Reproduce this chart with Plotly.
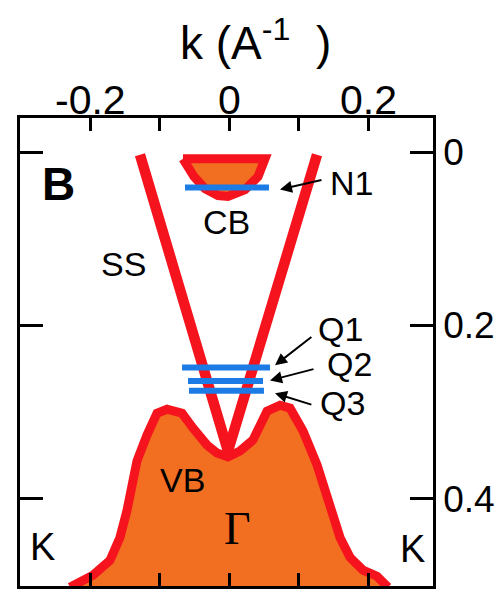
import plotly.graph_objects as go

# ---- data (k in 1/A, E in eV, E axis reversed) ----
x_tickvals = [-0.2, -0.1, 0.0, 0.1, 0.2]
x_labelvals = [-0.2, 0.0, 0.2]
x_labeltext = ["-0.2", "0", "0.2"]
y_tickvals = [0.0, 0.2, 0.4]
y_ticktext = ["0", "0.2", "0.4"]

vb_k = [-0.2295, -0.1964, -0.1719, -0.1576, -0.1475, -0.1403, -0.1331, -0.1187, -0.1043,
        -0.0899, -0.0683, -0.0525, -0.0324, -0.0180, -0.0022, 0.0151, 0.0338, 0.0540,
        0.0727, 0.0871, 0.1058, 0.1259, 0.1446, 0.1590, 0.1734, 0.1921, 0.2122, 0.2281]
vb_E = [0.5023, 0.4885, 0.4713, 0.4449, 0.4139, 0.3875, 0.3565, 0.3266, 0.3014,
        0.2968, 0.3014, 0.3186, 0.3381, 0.3473, 0.3519, 0.3450, 0.3324, 0.2991,
        0.2922, 0.2956, 0.3220, 0.3610, 0.4104, 0.4449, 0.4679, 0.4828, 0.4897, 0.5023]

cb_k = [-0.0669, 0.0511, 0.0410, 0.0223, -0.0022, -0.0165, -0.0353, -0.0511]
cb_E = [0.0075, 0.0075, 0.0281, 0.0431, 0.0510, 0.0500, 0.0419, 0.0281]

ss_k = [-0.1288, -0.0022, 0.1259]
ss_E = [0.0029, 0.345, 0.0029]

level_names = ["N1", "Q1", "Q2", "Q3"]
level_E = [0.0408, 0.2486, 0.2641, 0.2756]
level_kmin = [-0.064, -0.0683, -0.0597, -0.0583]
level_kmax = [0.0568, 0.0583, 0.0482, 0.0496]

# label positions / arrow endpoints
label_pos = {"N1": (0.175, 0.035), "Q1": (0.159, 0.2038), "Q2": (0.172, 0.245), "Q3": (0.162, 0.290)}
arrow_tail = {"N1": (0.1345, 0.0316), "Q1": (0.120, 0.212), "Q2": (0.123, 0.250), "Q3": (0.120, 0.292)}
arrow_head = {"N1": (0.0727, 0.043), "Q1": (0.0655, 0.246), "Q2": (0.0583, 0.2635), "Q3": (0.0655, 0.2784)}

RED = "#f5141e"
ORANGE = "#f26f21"
BLUE = "#1d7be5"
FONT = "Liberation Sans, Arial, sans-serif"

fig = go.Figure()

fig.add_trace(go.Scatter(x=vb_k, y=vb_E, mode="lines", fill="toself", fillcolor=ORANGE,
                         line=dict(color=RED, width=9), hoverinfo="skip"))
fig.add_trace(go.Scatter(x=cb_k + [cb_k[0]], y=cb_E + [cb_E[0]], mode="lines", fill="toself",
                         fillcolor=ORANGE, line=dict(color=RED, width=9), hoverinfo="skip"))
fig.add_trace(go.Scatter(x=ss_k, y=ss_E, mode="lines", line=dict(color=RED, width=10.5),
                         hoverinfo="skip"))
for name, e, k0, k1 in zip(level_names, level_E, level_kmin, level_kmax):
    fig.add_trace(go.Scatter(x=[k0, k1], y=[e, e], mode="lines", line=dict(color=BLUE, width=6),
                             hoverinfo="skip"))

annotations = []
def txt(x, y, t, size=34, bold=False, family=FONT):
    annotations.append(dict(x=x, y=y, xref="x", yref="y", text=("<b>%s</b>" % t) if bold else t,
                            showarrow=False, font=dict(size=size, color="black", family=family),
                            xanchor="center", yanchor="middle"))

txt(-0.2453, 0.0362, "B", size=46, bold=True)
txt(-0.1518, 0.129, "SS")
txt(-0.0036, 0.081, "CB")
txt(-0.068, 0.378, "VB")
txt(0.011, 0.434, "Γ", size=46, family="Liberation Serif, Times New Roman, serif")
txt(-0.2684, 0.456, "K", size=38)
txt(0.264, 0.4587, "K", size=38)
for name in level_names:
    lx, ly = label_pos[name]
    txt(lx, ly, name)
    tx, ty = arrow_tail[name]
    hx, hy = arrow_head[name]
    annotations.append(dict(x=hx, y=hy, ax=tx, ay=ty, xref="x", yref="y", axref="x", ayref="y",
                            text="", showarrow=True, arrowhead=2, arrowsize=1.2, arrowwidth=2,
                            arrowcolor="black"))

# top-axis tick labels placed at their data positions
for v, t in zip(x_labelvals, x_labeltext):
    annotations.append(dict(x=v, y=1.038, xref="x", yref="paper", text=t, showarrow=False,
                            xanchor="center", yanchor="middle",
                            font=dict(size=41, color="black", family=FONT)))

annotations.append(dict(x=0.571, y=1.166, xref="paper", yref="paper",
                        text="k (A<sup>-1</sup>&nbsp; )",
                        showarrow=False, xanchor="center", yanchor="middle",
                        font=dict(size=46, color="black", family=FONT)))

fig.update_layout(
    width=500, height=592,
    margin=dict(l=20, r=67, t=118, b=3),
    paper_bgcolor="white", plot_bgcolor="white",
    showlegend=False,
    annotations=annotations,
    xaxis=dict(range=[-0.3014, 0.2928], side="top", tickmode="array", tickvals=x_tickvals,
               showticklabels=False, ticks="inside", ticklen=13, tickwidth=2.5, tickcolor="black",
               showline=True, linecolor="black", linewidth=2.5, mirror="allticks",
               showgrid=False, zeroline=False),
    yaxis=dict(range=[0.501, -0.0396], side="right", tickmode="array", tickvals=y_tickvals,
               ticktext=y_ticktext, ticks="inside", ticklen=23, tickwidth=2.5, tickcolor="black",
               showline=True, linecolor="black", linewidth=2.5, mirror="allticks",
               showgrid=False, zeroline=False,
               tickfont=dict(size=37, color="black", family=FONT)),
)

fig.write_html("out.html")
